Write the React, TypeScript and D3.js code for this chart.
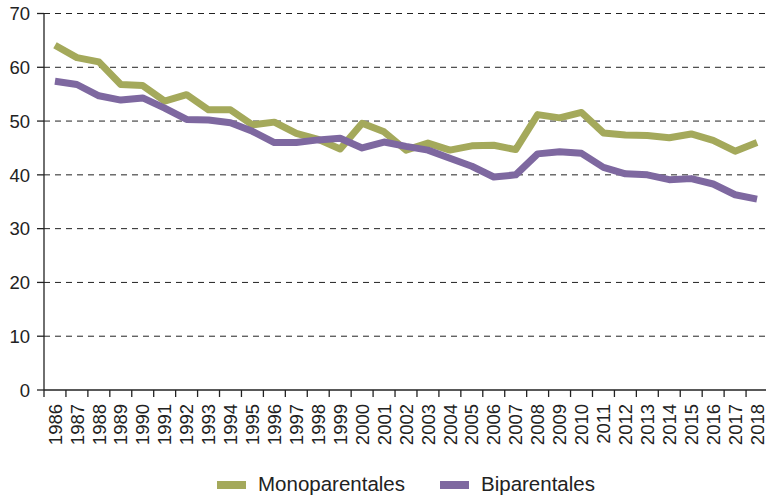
import React from "react";
import * as d3 from "d3";

const years = d3.range(1986, 2019).map(String);
const monoparentales = [64.1, 61.8, 61.0, 56.8, 56.6, 53.7, 54.9, 52.1, 52.1, 49.3, 49.8, 47.7, 46.6, 44.8, 49.6, 48.0, 44.6, 45.9, 44.6, 45.4, 45.5, 44.7, 51.2, 50.6, 51.6, 47.8, 47.4, 47.3, 46.9, 47.6, 46.4, 44.4, 46.0];
const biparentales = [57.4, 56.8, 54.7, 53.9, 54.3, 52.4, 50.3, 50.2, 49.7, 48.1, 46.0, 46.0, 46.5, 46.8, 45.0, 46.1, 45.3, 44.6, 43.1, 41.6, 39.6, 40.0, 43.9, 44.3, 44.0, 41.4, 40.2, 40.0, 39.1, 39.3, 38.3, 36.3, 35.5];
const yTicks = [0, 10, 20, 30, 40, 50, 60, 70];
const seriesNames = ["Monoparentales", "Biparentales"];
const colors = ["#a4a95b", "#7e68a0"];

export default function App() {
  const W = 766, H = 498;
  const left = 44, right = 768, top = 13.5, bottom = 390;
  const x = d3.scaleBand().domain(years).range([left, right]);
  const y = d3.scaleLinear().domain([0, 70]).range([bottom, top]);
  const line = d3.line<number>().x((_, i) => (x(years[i]) as number) + x.bandwidth() / 2).y(d => y(d));
  const font = "Liberation Sans, Arial, sans-serif";
  const boundaries = d3.range(0, years.length + 1).map(i => left + i * x.bandwidth());
  return (
    <svg width={W} height={H} style={{ position: "absolute", left: 0, top: 0 }} fontFamily={font}>
      {yTicks.filter(t => t > 0).map(t => (
        <line key={t} x1={left} x2={W} y1={y(t)} y2={y(t)} stroke="#222" strokeWidth={1} strokeDasharray="6,5" />
      ))}
      {yTicks.map(t => (
        <g key={"yt" + t}>
          <line x1={left - 7} x2={left} y1={y(t)} y2={y(t)} stroke="#222" strokeWidth={1.3} />
          <text x={30} y={y(t)} dy="0.36em" textAnchor="end" fontSize={18.5} fill="#222">{t}</text>
        </g>
      ))}
      <line x1={left} x2={left} y1={top} y2={bottom} stroke="#222" strokeWidth={1.3} />
      <line x1={left} x2={W} y1={bottom} y2={bottom} stroke="#222" strokeWidth={1.3} />
      {boundaries.map((b, i) => (
        <line key={"xt" + i} x1={b} x2={b} y1={bottom} y2={bottom + 7} stroke="#222" strokeWidth={1.3} />
      ))}
      {years.map(yr => (
        <text key={yr} transform={`translate(${(x(yr) as number) + x.bandwidth() / 2},${bottom + 14}) rotate(-90)`} textAnchor="end" dy="0.36em" fontSize={18.5} fill="#222">{yr}</text>
      ))}
      {[monoparentales, biparentales].map((s, i) => (
        <path key={i} d={line(s) || ""} fill="none" stroke={colors[i]} strokeWidth={7} strokeLinejoin="round" />
      ))}
      {seriesNames.map((n, i) => {
        const sx = i === 0 ? 217 : 440;
        return (
          <g key={n}>
            <rect x={sx} y={481} width={29} height={8} fill={colors[i]} />
            <text x={sx + 41} y={491} fontSize={20.5} fill="#222">{n}</text>
          </g>
        );
      })}
    </svg>
  );
}
